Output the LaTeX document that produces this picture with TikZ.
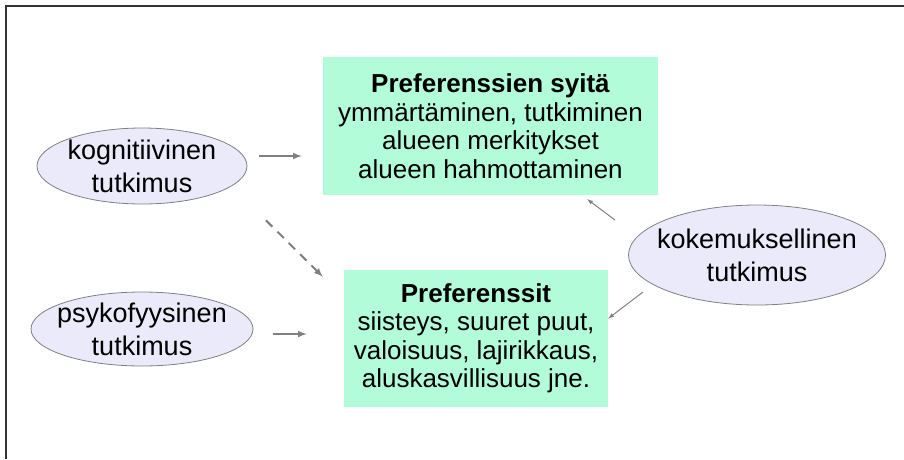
\documentclass[tikz,border=0pt]{standalone}
\usepackage{fontspec}
\setmainfont{Liberation Sans}
\usetikzlibrary{shapes.geometric}

\definecolor{mint}{RGB}{178,252,218}
\definecolor{lavender}{RGB}{234,234,250}
\definecolor{arrowgray}{RGB}{128,128,128}

\tikzset{
  themebox/.style={fill=mint,inner sep=0pt,align=center,
    font=\fontsize{26}{28.5}\selectfont},
  methodoval/.style={ellipse,draw=arrowgray,line width=0.8pt,fill=lavender,
    inner xsep=-15pt,inner ysep=-8pt,align=center,
    font=\fontsize{27}{33}\selectfont},
  thickarrow/.style={->,line width=2pt,color=arrowgray},
  thinarrow/.style={->,line width=1pt,color=arrowgray},
}

\begin{document}
\begin{tikzpicture}[>=latex,x=1pt,y=-1pt]

\useasboundingbox (0,0) rectangle (904,459);
\draw[line width=1.5pt,color=black!80] (6,459)--(6,6)--(904,6);

\node[themebox,minimum width=335pt,minimum height=138pt] (syy) at (490.5,126)
  {\textbf{Preferenssien syitä}\\ymmärtäminen, tutkiminen\\alueen merkitykset\\alueen hahmottaminen};
\node[themebox,minimum width=264pt,minimum height=137pt] (pref) at (476,338.5)
  {\textbf{Preferenssit}\\siisteys, suuret puut,\\valoisuus, lajirikkaus,\\aluskasvillisuus jne.};

\node[methodoval,minimum width=210pt,minimum height=76pt] (kog) at (142,166)
  {kognitiivinen\\tutkimus};
\node[methodoval,minimum width=222pt,minimum height=74pt] (psy) at (142,329)
  {psykofyysinen\\tutkimus};
\node[methodoval,minimum width=257pt,minimum height=100pt] (kok) at (757,255)
  {kokemuksellinen\\tutkimus};

\draw[thickarrow,shorten <=12pt,shorten >=21pt]
  ([yshift=10pt]kog.east) -- ([yshift=10pt]kog.east -| syy.west);
\draw[thickarrow,shorten <=20pt,shorten >=37pt]
  ([yshift=-5pt]psy.east) -- ([yshift=-5pt]psy.east -| pref.west);
\draw[thickarrow,dashed,dash pattern=on 9pt off 7pt]
  ([shift={(124,16)}]kog.south) -- ([shift={(-21,7)}]pref.north west);

\draw[thinarrow] ([shift={(-142,-35)}]kok.center) -- ([shift={(-71,4)}]syy.south east);
\draw[thinarrow] ([shift={(-114,37)}]kok.center) -- ([shift={(0,-20)}]pref.east);

\end{tikzpicture}
\end{document}
